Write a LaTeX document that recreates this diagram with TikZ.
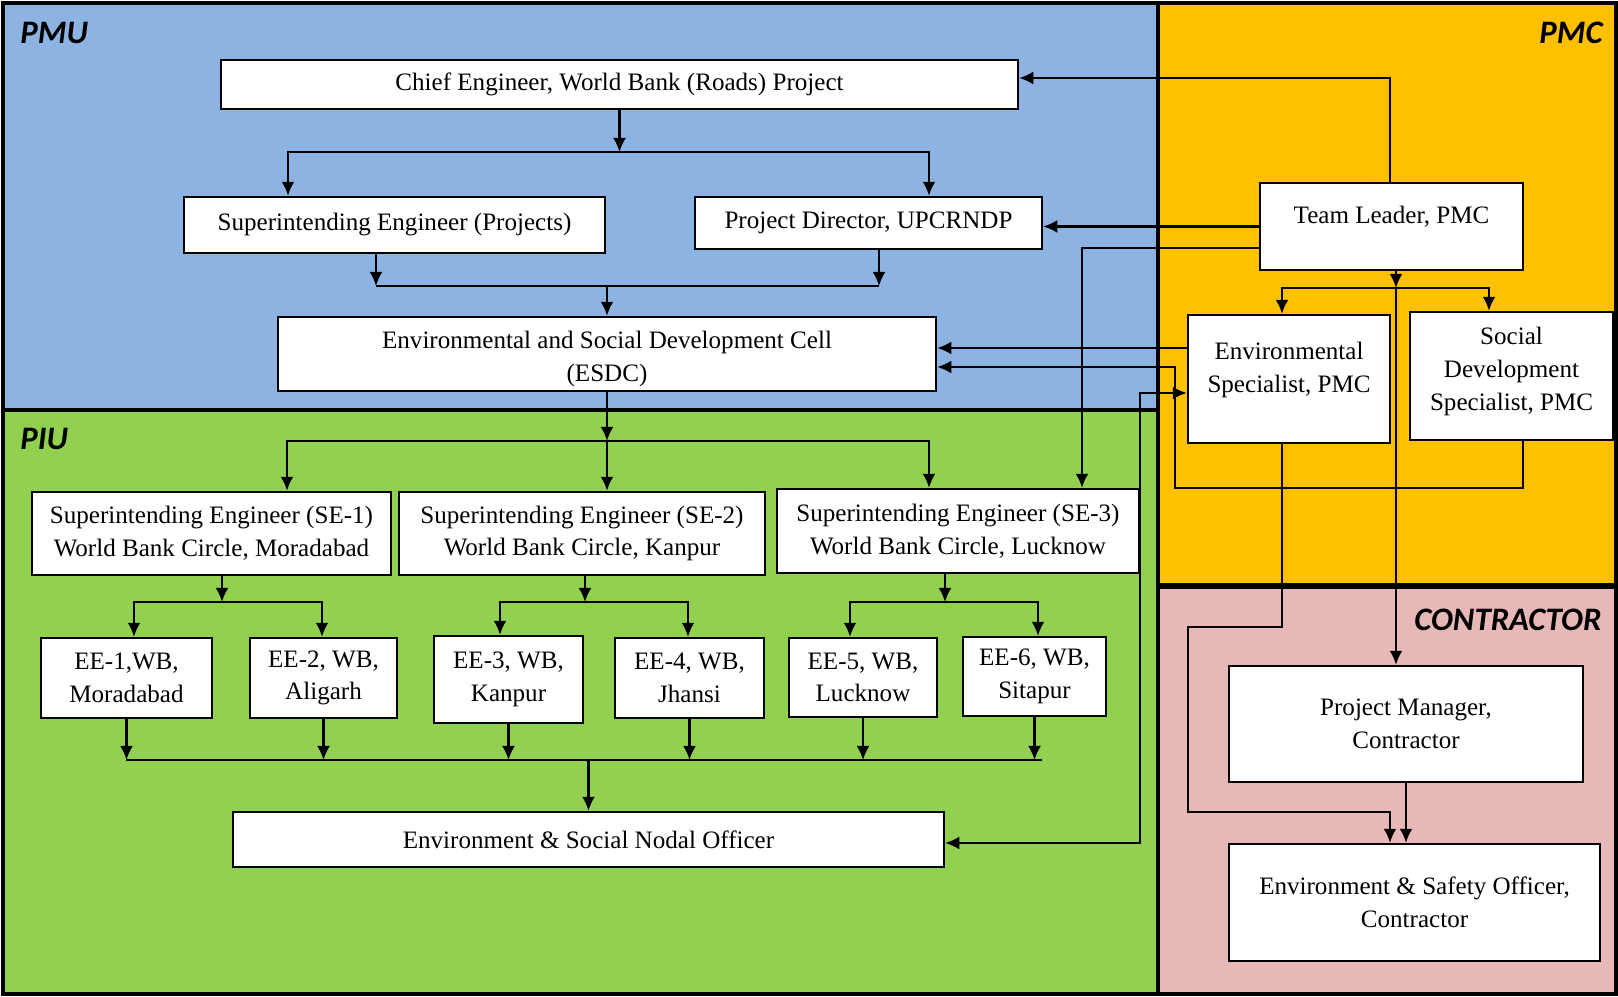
\documentclass[tikz,border=0pt]{standalone}
\usepackage{fontspec}
\setmainfont{Liberation Serif}
\newfontfamily\regionfont{Carlito}
\usetikzlibrary{arrows.meta}
\definecolor{pmublue}{HTML}{8DB3E2}
\definecolor{piugreen}{HTML}{92D050}
\definecolor{pmcorange}{HTML}{FFC000}
\definecolor{contrpink}{HTML}{E6B9B8}
\tikzset{>={Latex[length=6pt,width=5.5pt]}, font=\fontsize{10.7}{14}\selectfont}
\tikzstyle{block} = [draw, fill=white, rectangle, line width=1pt, inner sep=0pt, text centered, align=center]
\tikzstyle{region} = [font=\fontsize{14}{14}\selectfont\regionfont\bfseries\itshape, inner sep=0pt]
\tikzstyle{link} = [line width=0.9pt]
\tikzstyle{junction} = [coordinate]

\begin{document}
\begin{tikzpicture}[x=0.015cm, y=-0.015cm]
		\useasboundingbox (0,0) rectangle (1618,997);

		% the four areas
		\fill[pmublue] (3,3) rectangle (1158,410);
		\fill[piugreen] (3,410) rectangle (1158,994);
		\fill[pmcorange] (1158,3) rectangle (1616,586);
		\fill[contrpink] (1158,586) rectangle (1616,994);
		\draw[line width=1.3pt] (3,410) -- (1158,410);
		\draw[line width=1.5pt] (1158,3) -- (1158,994);
		\draw[line width=2.6pt] (1158,586) -- (1616,586);
		\draw[line width=1.7pt] (3,3) rectangle (1616,994);

		\node [region, anchor=west] (pmu) at (20,33) {PMU};
		\node [region, anchor=west] (piu) at (20,439) {PIU};
		\node [region, anchor=east] (pmc) at (1603,33) {PMC};
		\node [region, anchor=east] (contr) at (1602,620) {CONTRACTOR};

		% PMU
		\node [block, minimum width=11.955cm, minimum height=0.735cm] (chief) at (619.5,84.5) {Chief Engineer, World Bank (Roads) Project};
		\node [block, minimum width=6.315cm, minimum height=0.84cm] (sep) at (394.5,225) {Superintending Engineer (Projects)};
		\node [block, minimum width=5.205cm, minimum height=0.78cm] (pd) at (868.5,223) {Project Director, UPCRNDP};
		\node [block, minimum width=9.87cm, minimum height=1.11cm] (esdc) at (607,354) {\mbox{}\\[-2pt]Environmental and Social Development Cell\\(ESDC)};

		% PIU
		\node [block, minimum width=5.385cm, minimum height=1.245cm] (se1) at (211.5,533.5) {Superintending Engineer (SE-1)\\World Bank Circle, Moradabad};
		\node [block, minimum width=5.49cm, minimum height=1.245cm] (se2) at (582,533.5) {Superintending Engineer (SE-2)\\World Bank Circle, Kanpur};
		\node [block, minimum width=5.43cm, minimum height=1.26cm] (se3) at (958,531) {Superintending Engineer (SE-3)\\World Bank Circle, Lucknow};

		\node [block, minimum width=2.565cm, minimum height=1.2cm] (ee1) at (126.5,678) {EE-1,WB,\\Moradabad};
		\node [block, minimum width=2.205cm, minimum height=1.2cm] (ee2) at (323.5,678) {EE-2, WB,\\Aligarh};
		\node [block, minimum width=2.235cm, minimum height=1.305cm] (ee3) at (508.5,679.5) {EE-3, WB,\\Kanpur};
		\node [block, minimum width=2.235cm, minimum height=1.2cm] (ee4) at (689.5,678) {EE-4, WB,\\Jhansi};
		\node [block, minimum width=2.22cm, minimum height=1.185cm] (ee5) at (863,677.5) {EE-5, WB,\\Lucknow};
		\node [block, minimum width=2.145cm, minimum height=1.185cm] (ee6) at (1034.5,676.5) {EE-6, WB,\\Sitapur};

		\node [block, minimum width=10.665cm, minimum height=0.825cm] (nodal) at (588.5,839.5) {Environment \& Social Nodal Officer};

		% PMC
		\node [block, minimum width=3.945cm, minimum height=1.305cm] (tl) at (1391.5,226.5) {Team Leader, PMC\\[-4pt]\mbox{}};
		\node [block, minimum width=3.03cm, minimum height=1.92cm] (envsp) at (1289,379) {Environmental\\Specialist, PMC\\[-4pt]\mbox{}};
		\node [block, minimum width=3.045cm, minimum height=1.92cm] (socsp) at (1511.5,376) {Social\\Development\\Specialist, PMC\\[-8pt]\mbox{}};

		% contractor
		\node [block, minimum width=5.31cm, minimum height=1.74cm] (pm) at (1406,724) {Project Manager,\\Contractor};
		\node [block, minimum width=5.565cm, minimum height=1.755cm] (eso) at (1414.5,902.5) {Environment \& Safety Officer,\\Contractor};

		% junctions
		\node [junction] (ce-l) at (288,152) {};
		\node [junction] (ce-r) at (929,152) {};
		\node [junction] (m1-l) at (376,286) {};
		\node [junction] (m1-r) at (879,286) {};
		\node [junction] (e-l) at (287,441) {};
		\node [junction] (e-m) at (607,441) {};
		\node [junction] (e-r) at (929,441) {};
		\node [junction] (s1-l) at (134,602) {};
		\node [junction] (s1-m) at (222,602) {};
		\node [junction] (s1-r) at (322,602) {};
		\node [junction] (s2-l) at (500,602) {};
		\node [junction] (s2-m) at (585,602) {};
		\node [junction] (s2-r) at (688,602) {};
		\node [junction] (s3-l) at (850,602) {};
		\node [junction] (s3-m) at (945,602) {};
		\node [junction] (s3-r) at (1038,602) {};
		\node [junction] (bus-l) at (126,760) {};
		\node [junction] (bus-r) at (1042,760) {};
		\node [junction] (tl-up) at (1390,78) {};
		\node [junction] (tl-se3) at (1082,248) {};
		\node [junction] (tl-b) at (1396,288) {};
		\node [junction] (tl-bl) at (1282,288) {};
		\node [junction] (tl-br) at (1489,288) {};
		\node [junction] (es-lane) at (1100,348) {};
		\node [junction] (sd-1) at (1523,488) {};
		\node [junction] (sd-2) at (1175,488) {};
		\node [junction] (sd-3) at (1175,367) {};
		\node [junction] (nd-1) at (1140,393) {};
		\node [junction] (nd-2) at (1140,843) {};
		\node [junction] (eo-1) at (1282,627) {};
		\node [junction] (eo-2) at (1188,627) {};
		\node [junction] (eo-3) at (1188,812) {};
		\node [junction] (eo-4) at (1390,812) {};

		% PMU links
		\draw [link, ->] (chief.south) -- (chief.south |- ce-l);
		\draw [link, <->] (sep.north -| ce-l) -- (ce-l) -- (ce-r) -- (pd.north -| ce-r);
		\draw [link, ->] (sep.south -| m1-l) -- (m1-l);
		\draw [link, ->] (pd.south -| m1-r) -- (m1-r);
		\draw [link] (m1-l) -- (m1-r);
		\draw [link, ->] (esdc.north |- m1-l) -- (esdc.north);

		% PIU links
		\draw [link, ->] (esdc.south) -- (e-m);
		\draw [link, <->] (se1.north -| e-l) -- (e-l) -- (e-r) -- (se3.north -| e-r);
		\draw [link, ->] (e-m) -- (se2.north -| e-m);

		\draw [link, ->] (se1.south -| s1-m) -- (s1-m);
		\draw [link, <->] (ee1.north -| s1-l) -- (s1-l) -- (s1-r) -- (ee2.north -| s1-r);
		\draw [link, ->] (se2.south -| s2-m) -- (s2-m);
		\draw [link, <->] (ee3.north -| s2-l) -- (s2-l) -- (s2-r) -- (ee4.north -| s2-r);
		\draw [link, ->] (se3.south -| s3-m) -- (s3-m);
		\draw [link, <->] (ee5.north -| s3-l) -- (s3-l) -- (s3-r) -- (ee6.north -| s3-r);

		\foreach \ee in {ee1,ee2,ee3,ee4,ee5,ee6}
			\draw [link, ->] (\ee.south) -- (\ee.south |- bus-l);
		\draw [link] (bus-l) -- (bus-r);
		\draw [link, ->] (nodal.north |- bus-l) -- (nodal.north);

		% PMC links
		\draw [link, ->] (tl.north -| tl-up) -- (tl-up) -- (tl-up -| chief.east);
		\draw [link, ->] (tl.west) -- (tl.west -| pd.east);
		\draw [link, ->] (tl.west |- tl-se3) -- (tl-se3) -- (tl-se3 |- se3.north);
		\draw [link, ->] (tl.south -| tl-b) -- (tl-b);
		\draw [link, <->] (envsp.north -| tl-bl) -- (tl-bl) -- (tl-br) -- (socsp.north -| tl-br);
		\draw [link, ->] (tl-b) -- (tl-b |- pm.north);

		\draw [link, ->] (envsp.west |- es-lane) -- (es-lane -| esdc.east);
		\draw [link, ->] (socsp.south -| sd-1) -- (sd-1) -- (sd-2) -- (sd-3) -- (sd-3 -| esdc.east);
		\draw [link, <->] (envsp.west |- nd-1) -- (nd-1) -- (nd-2) -- (nd-2 -| nodal.east);

		% contractor links
		\draw [link, ->] (envsp.south -| eo-1) -- (eo-1) -- (eo-2) -- (eo-3) -- (eo-4) -- (eo-4 |- eso.north);
		\draw [link, ->] (pm.south) -- (pm.south |- eso.north);
	\end{tikzpicture}
\end{document}
